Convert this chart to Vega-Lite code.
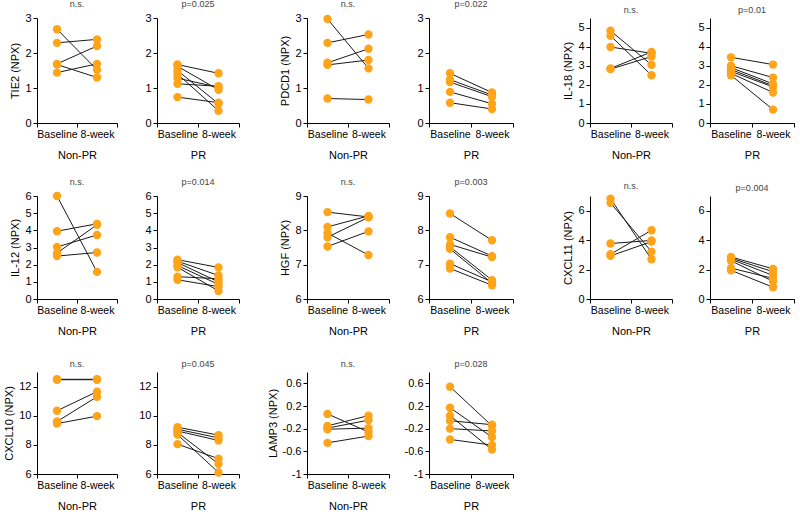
{
  "$schema": "https://vega.github.io/schema/vega-lite/v6.json",
  "padding": {"left": 3, "top": 0, "right": 0, "bottom": 0},
  "datasets": {
    "npx": [
      {"m":"TIE2","g":"Non-PR","s":1,"t":"Baseline","v":2.68},{"m":"TIE2","g":"Non-PR","s":1,"t":"8-week","v":1.52},
      {"m":"TIE2","g":"Non-PR","s":2,"t":"Baseline","v":2.29},{"m":"TIE2","g":"Non-PR","s":2,"t":"8-week","v":2.39},
      {"m":"TIE2","g":"Non-PR","s":3,"t":"Baseline","v":1.69},{"m":"TIE2","g":"Non-PR","s":3,"t":"8-week","v":2.20},
      {"m":"TIE2","g":"Non-PR","s":4,"t":"Baseline","v":1.67},{"m":"TIE2","g":"Non-PR","s":4,"t":"8-week","v":1.30},
      {"m":"TIE2","g":"Non-PR","s":5,"t":"Baseline","v":1.44},{"m":"TIE2","g":"Non-PR","s":5,"t":"8-week","v":1.69},
      {"m":"TIE2","g":"PR","s":1,"t":"Baseline","v":1.67},{"m":"TIE2","g":"PR","s":1,"t":"8-week","v":1.42},
      {"m":"TIE2","g":"PR","s":2,"t":"Baseline","v":1.62},{"m":"TIE2","g":"PR","s":2,"t":"8-week","v":0.95},
      {"m":"TIE2","g":"PR","s":3,"t":"Baseline","v":1.50},{"m":"TIE2","g":"PR","s":3,"t":"8-week","v":0.55},
      {"m":"TIE2","g":"PR","s":4,"t":"Baseline","v":1.40},{"m":"TIE2","g":"PR","s":4,"t":"8-week","v":0.35},
      {"m":"TIE2","g":"PR","s":5,"t":"Baseline","v":1.28},{"m":"TIE2","g":"PR","s":5,"t":"8-week","v":1.02},
      {"m":"TIE2","g":"PR","s":6,"t":"Baseline","v":1.12},{"m":"TIE2","g":"PR","s":6,"t":"8-week","v":1.05},
      {"m":"TIE2","g":"PR","s":7,"t":"Baseline","v":0.74},{"m":"TIE2","g":"PR","s":7,"t":"8-week","v":0.58},
      {"m":"PDCD1","g":"Non-PR","s":1,"t":"Baseline","v":2.97},{"m":"PDCD1","g":"Non-PR","s":1,"t":"8-week","v":1.56},
      {"m":"PDCD1","g":"Non-PR","s":2,"t":"Baseline","v":2.29},{"m":"PDCD1","g":"Non-PR","s":2,"t":"8-week","v":2.53},
      {"m":"PDCD1","g":"Non-PR","s":3,"t":"Baseline","v":1.72},{"m":"PDCD1","g":"Non-PR","s":3,"t":"8-week","v":2.12},
      {"m":"PDCD1","g":"Non-PR","s":4,"t":"Baseline","v":1.66},{"m":"PDCD1","g":"Non-PR","s":4,"t":"8-week","v":1.80},
      {"m":"PDCD1","g":"Non-PR","s":5,"t":"Baseline","v":0.70},{"m":"PDCD1","g":"Non-PR","s":5,"t":"8-week","v":0.67},
      {"m":"PDCD1","g":"PR","s":1,"t":"Baseline","v":1.42},{"m":"PDCD1","g":"PR","s":1,"t":"8-week","v":0.87},
      {"m":"PDCD1","g":"PR","s":2,"t":"Baseline","v":1.24},{"m":"PDCD1","g":"PR","s":2,"t":"8-week","v":0.80},
      {"m":"PDCD1","g":"PR","s":3,"t":"Baseline","v":1.17},{"m":"PDCD1","g":"PR","s":3,"t":"8-week","v":0.75},
      {"m":"PDCD1","g":"PR","s":4,"t":"Baseline","v":0.89},{"m":"PDCD1","g":"PR","s":4,"t":"8-week","v":0.55},
      {"m":"PDCD1","g":"PR","s":5,"t":"Baseline","v":0.58},{"m":"PDCD1","g":"PR","s":5,"t":"8-week","v":0.40},
      {"m":"IL-18","g":"Non-PR","s":1,"t":"Baseline","v":4.83},{"m":"IL-18","g":"Non-PR","s":1,"t":"8-week","v":3.05},
      {"m":"IL-18","g":"Non-PR","s":2,"t":"Baseline","v":4.57},{"m":"IL-18","g":"Non-PR","s":2,"t":"8-week","v":2.50},
      {"m":"IL-18","g":"Non-PR","s":3,"t":"Baseline","v":3.98},{"m":"IL-18","g":"Non-PR","s":3,"t":"8-week","v":3.65},
      {"m":"IL-18","g":"Non-PR","s":4,"t":"Baseline","v":2.86},{"m":"IL-18","g":"Non-PR","s":4,"t":"8-week","v":3.72},
      {"m":"IL-18","g":"Non-PR","s":5,"t":"Baseline","v":2.82},{"m":"IL-18","g":"Non-PR","s":5,"t":"8-week","v":3.48},
      {"m":"IL-18","g":"PR","s":1,"t":"Baseline","v":3.44},{"m":"IL-18","g":"PR","s":1,"t":"8-week","v":3.06},
      {"m":"IL-18","g":"PR","s":2,"t":"Baseline","v":3.00},{"m":"IL-18","g":"PR","s":2,"t":"8-week","v":2.38},
      {"m":"IL-18","g":"PR","s":3,"t":"Baseline","v":2.90},{"m":"IL-18","g":"PR","s":3,"t":"8-week","v":2.05},
      {"m":"IL-18","g":"PR","s":4,"t":"Baseline","v":2.80},{"m":"IL-18","g":"PR","s":4,"t":"8-week","v":1.95},
      {"m":"IL-18","g":"PR","s":5,"t":"Baseline","v":2.70},{"m":"IL-18","g":"PR","s":5,"t":"8-week","v":1.89},
      {"m":"IL-18","g":"PR","s":6,"t":"Baseline","v":2.60},{"m":"IL-18","g":"PR","s":6,"t":"8-week","v":1.60},
      {"m":"IL-18","g":"PR","s":7,"t":"Baseline","v":2.50},{"m":"IL-18","g":"PR","s":7,"t":"8-week","v":0.70},
      {"m":"IL-12","g":"Non-PR","s":1,"t":"Baseline","v":6.00},{"m":"IL-12","g":"Non-PR","s":1,"t":"8-week","v":1.58},
      {"m":"IL-12","g":"Non-PR","s":2,"t":"Baseline","v":3.95},{"m":"IL-12","g":"Non-PR","s":2,"t":"8-week","v":4.38},
      {"m":"IL-12","g":"Non-PR","s":3,"t":"Baseline","v":3.03},{"m":"IL-12","g":"Non-PR","s":3,"t":"8-week","v":3.73},
      {"m":"IL-12","g":"Non-PR","s":4,"t":"Baseline","v":2.68},{"m":"IL-12","g":"Non-PR","s":4,"t":"8-week","v":4.32},
      {"m":"IL-12","g":"Non-PR","s":5,"t":"Baseline","v":2.50},{"m":"IL-12","g":"Non-PR","s":5,"t":"8-week","v":2.71},
      {"m":"IL-12","g":"PR","s":1,"t":"Baseline","v":2.29},{"m":"IL-12","g":"PR","s":1,"t":"8-week","v":1.84},
      {"m":"IL-12","g":"PR","s":2,"t":"Baseline","v":2.20},{"m":"IL-12","g":"PR","s":2,"t":"8-week","v":1.37},
      {"m":"IL-12","g":"PR","s":3,"t":"Baseline","v":2.12},{"m":"IL-12","g":"PR","s":3,"t":"8-week","v":1.00},
      {"m":"IL-12","g":"PR","s":4,"t":"Baseline","v":1.95},{"m":"IL-12","g":"PR","s":4,"t":"8-week","v":0.85},
      {"m":"IL-12","g":"PR","s":5,"t":"Baseline","v":1.85},{"m":"IL-12","g":"PR","s":5,"t":"8-week","v":0.47},
      {"m":"IL-12","g":"PR","s":6,"t":"Baseline","v":1.30},{"m":"IL-12","g":"PR","s":6,"t":"8-week","v":1.18},
      {"m":"IL-12","g":"PR","s":7,"t":"Baseline","v":1.12},{"m":"IL-12","g":"PR","s":7,"t":"8-week","v":0.72},
      {"m":"HGF","g":"Non-PR","s":1,"t":"Baseline","v":8.53},{"m":"HGF","g":"Non-PR","s":1,"t":"8-week","v":8.39},
      {"m":"HGF","g":"Non-PR","s":2,"t":"Baseline","v":8.10},{"m":"HGF","g":"Non-PR","s":2,"t":"8-week","v":8.42},
      {"m":"HGF","g":"Non-PR","s":3,"t":"Baseline","v":7.92},{"m":"HGF","g":"Non-PR","s":3,"t":"8-week","v":7.28},
      {"m":"HGF","g":"Non-PR","s":4,"t":"Baseline","v":7.80},{"m":"HGF","g":"Non-PR","s":4,"t":"8-week","v":8.38},
      {"m":"HGF","g":"Non-PR","s":5,"t":"Baseline","v":7.53},{"m":"HGF","g":"Non-PR","s":5,"t":"8-week","v":7.97},
      {"m":"HGF","g":"PR","s":1,"t":"Baseline","v":8.49},{"m":"HGF","g":"PR","s":1,"t":"8-week","v":7.71},
      {"m":"HGF","g":"PR","s":2,"t":"Baseline","v":7.80},{"m":"HGF","g":"PR","s":2,"t":"8-week","v":7.25},
      {"m":"HGF","g":"PR","s":3,"t":"Baseline","v":7.59},{"m":"HGF","g":"PR","s":3,"t":"8-week","v":7.22},
      {"m":"HGF","g":"PR","s":4,"t":"Baseline","v":7.52},{"m":"HGF","g":"PR","s":4,"t":"8-week","v":6.55},
      {"m":"HGF","g":"PR","s":5,"t":"Baseline","v":7.46},{"m":"HGF","g":"PR","s":5,"t":"8-week","v":6.46},
      {"m":"HGF","g":"PR","s":6,"t":"Baseline","v":7.03},{"m":"HGF","g":"PR","s":6,"t":"8-week","v":6.50},
      {"m":"HGF","g":"PR","s":7,"t":"Baseline","v":6.89},{"m":"HGF","g":"PR","s":7,"t":"8-week","v":6.40},
      {"m":"CXCL11","g":"Non-PR","s":1,"t":"Baseline","v":6.82},{"m":"CXCL11","g":"Non-PR","s":1,"t":"8-week","v":2.70},
      {"m":"CXCL11","g":"Non-PR","s":2,"t":"Baseline","v":6.53},{"m":"CXCL11","g":"Non-PR","s":2,"t":"8-week","v":3.22},
      {"m":"CXCL11","g":"Non-PR","s":3,"t":"Baseline","v":3.77},{"m":"CXCL11","g":"Non-PR","s":3,"t":"8-week","v":3.98},
      {"m":"CXCL11","g":"Non-PR","s":4,"t":"Baseline","v":3.04},{"m":"CXCL11","g":"Non-PR","s":4,"t":"8-week","v":4.67},
      {"m":"CXCL11","g":"Non-PR","s":5,"t":"Baseline","v":2.93},{"m":"CXCL11","g":"Non-PR","s":5,"t":"8-week","v":3.90},
      {"m":"CXCL11","g":"PR","s":1,"t":"Baseline","v":2.86},{"m":"CXCL11","g":"PR","s":1,"t":"8-week","v":2.05},
      {"m":"CXCL11","g":"PR","s":2,"t":"Baseline","v":2.78},{"m":"CXCL11","g":"PR","s":2,"t":"8-week","v":1.85},
      {"m":"CXCL11","g":"PR","s":3,"t":"Baseline","v":2.70},{"m":"CXCL11","g":"PR","s":3,"t":"8-week","v":1.60},
      {"m":"CXCL11","g":"PR","s":4,"t":"Baseline","v":2.60},{"m":"CXCL11","g":"PR","s":4,"t":"8-week","v":1.20},
      {"m":"CXCL11","g":"PR","s":5,"t":"Baseline","v":2.10},{"m":"CXCL11","g":"PR","s":5,"t":"8-week","v":1.40},
      {"m":"CXCL11","g":"PR","s":6,"t":"Baseline","v":1.95},{"m":"CXCL11","g":"PR","s":6,"t":"8-week","v":0.80},
      {"m":"CXCL10","g":"Non-PR","s":1,"t":"Baseline","v":12.47},{"m":"CXCL10","g":"Non-PR","s":1,"t":"8-week","v":12.47},
      {"m":"CXCL10","g":"Non-PR","s":2,"t":"Baseline","v":12.50},{"m":"CXCL10","g":"Non-PR","s":2,"t":"8-week","v":12.50},
      {"m":"CXCL10","g":"Non-PR","s":3,"t":"Baseline","v":10.34},{"m":"CXCL10","g":"Non-PR","s":3,"t":"8-week","v":11.65},
      {"m":"CXCL10","g":"Non-PR","s":4,"t":"Baseline","v":9.60},{"m":"CXCL10","g":"Non-PR","s":4,"t":"8-week","v":11.30},
      {"m":"CXCL10","g":"Non-PR","s":5,"t":"Baseline","v":9.46},{"m":"CXCL10","g":"Non-PR","s":5,"t":"8-week","v":9.97},
      {"m":"CXCL10","g":"PR","s":1,"t":"Baseline","v":9.21},{"m":"CXCL10","g":"PR","s":1,"t":"8-week","v":8.67},
      {"m":"CXCL10","g":"PR","s":2,"t":"Baseline","v":9.07},{"m":"CXCL10","g":"PR","s":2,"t":"8-week","v":8.48},
      {"m":"CXCL10","g":"PR","s":3,"t":"Baseline","v":8.95},{"m":"CXCL10","g":"PR","s":3,"t":"8-week","v":8.30},
      {"m":"CXCL10","g":"PR","s":4,"t":"Baseline","v":8.85},{"m":"CXCL10","g":"PR","s":4,"t":"8-week","v":6.69},
      {"m":"CXCL10","g":"PR","s":5,"t":"Baseline","v":8.70},{"m":"CXCL10","g":"PR","s":5,"t":"8-week","v":6.10},
      {"m":"CXCL10","g":"PR","s":6,"t":"Baseline","v":8.05},{"m":"CXCL10","g":"PR","s":6,"t":"8-week","v":7.05},
      {"m":"LAMP3","g":"Non-PR","s":1,"t":"Baseline","v":0.06},{"m":"LAMP3","g":"Non-PR","s":1,"t":"8-week","v":-0.26},
      {"m":"LAMP3","g":"Non-PR","s":2,"t":"Baseline","v":-0.15},{"m":"LAMP3","g":"Non-PR","s":2,"t":"8-week","v":0.03},
      {"m":"LAMP3","g":"Non-PR","s":3,"t":"Baseline","v":-0.19},{"m":"LAMP3","g":"Non-PR","s":3,"t":"8-week","v":-0.05},
      {"m":"LAMP3","g":"Non-PR","s":4,"t":"Baseline","v":-0.21},{"m":"LAMP3","g":"Non-PR","s":4,"t":"8-week","v":-0.19},
      {"m":"LAMP3","g":"Non-PR","s":5,"t":"Baseline","v":-0.45},{"m":"LAMP3","g":"Non-PR","s":5,"t":"8-week","v":-0.33},
      {"m":"LAMP3","g":"PR","s":1,"t":"Baseline","v":0.54},{"m":"LAMP3","g":"PR","s":1,"t":"8-week","v":-0.15},
      {"m":"LAMP3","g":"PR","s":2,"t":"Baseline","v":0.17},{"m":"LAMP3","g":"PR","s":2,"t":"8-week","v":-0.35},
      {"m":"LAMP3","g":"PR","s":3,"t":"Baseline","v":0.03},{"m":"LAMP3","g":"PR","s":3,"t":"8-week","v":-0.57},
      {"m":"LAMP3","g":"PR","s":4,"t":"Baseline","v":-0.06},{"m":"LAMP3","g":"PR","s":4,"t":"8-week","v":-0.13},
      {"m":"LAMP3","g":"PR","s":5,"t":"Baseline","v":-0.20},{"m":"LAMP3","g":"PR","s":5,"t":"8-week","v":-0.24},
      {"m":"LAMP3","g":"PR","s":6,"t":"Baseline","v":-0.39},{"m":"LAMP3","g":"PR","s":6,"t":"8-week","v":-0.49}
    ]
  },
  "data": {"name": "npx"},
  "columns": 11,
  "bounds": "flush",
  "align": "each",
  "spacing": {"row": 73, "column": 0},
  "concat": [
    {"width": 80, "height": 105, "title": "n.s.",
     "transform": [{"filter": "datum.m == 'TIE2' && datum.g == 'Non-PR'"}],
     "encoding": {
       "x": {"field": "t", "type": "nominal", "sort": ["Baseline", "8-week"], "scale": {"type": "band", "paddingInner": 0, "paddingOuter": 0}, "axis": {"title": "Non-PR"}},
       "y": {"field": "v", "type": "quantitative", "scale": {"domain": [0, 3], "nice": false, "zero": false}, "axis": {"values": [0, 1, 2, 3], "title": "TIE2 (NPX)", "labelExpr": "'' + datum.value"}}
     },
     "layer": [
       {"mark": {"type": "line", "color": "#1a1a1a", "strokeWidth": 1}, "encoding": {"detail": {"field": "s", "type": "nominal"}}},
       {"mark": {"type": "circle", "color": "#FFA319", "opacity": 1, "size": 70}}
     ]},
    {"width": 39.5, "height": 1, "data": {"values": []}, "mark": "point"},
    {"width": 82, "height": 105, "title": "p=0.025",
     "transform": [{"filter": "datum.m == 'TIE2' && datum.g == 'PR'"}],
     "encoding": {
       "x": {"field": "t", "type": "nominal", "sort": ["Baseline", "8-week"], "scale": {"type": "band", "paddingInner": 0, "paddingOuter": 0}, "axis": {"title": "PR"}},
       "y": {"field": "v", "type": "quantitative", "scale": {"domain": [0, 3], "nice": false, "zero": false}, "axis": {"values": [0, 1, 2, 3], "title": null, "labelExpr": "'' + datum.value"}}
     },
     "layer": [
       {"mark": {"type": "line", "color": "#1a1a1a", "strokeWidth": 1}, "encoding": {"detail": {"field": "s", "type": "nominal"}}},
       {"mark": {"type": "circle", "color": "#FFA319", "opacity": 1, "size": 70}}
     ]},
    {"width": 68, "height": 1, "data": {"values": []}, "mark": "point"},
    {"width": 82, "height": 105, "title": "n.s.",
     "transform": [{"filter": "datum.m == 'PDCD1' && datum.g == 'Non-PR'"}],
     "encoding": {
       "x": {"field": "t", "type": "nominal", "sort": ["Baseline", "8-week"], "scale": {"type": "band", "paddingInner": 0, "paddingOuter": 0}, "axis": {"title": "Non-PR"}},
       "y": {"field": "v", "type": "quantitative", "scale": {"domain": [0, 3], "nice": false, "zero": false}, "axis": {"values": [0, 1, 2, 3], "title": "PDCD1 (NPX)", "labelExpr": "'' + datum.value"}}
     },
     "layer": [
       {"mark": {"type": "line", "color": "#1a1a1a", "strokeWidth": 1}, "encoding": {"detail": {"field": "s", "type": "nominal"}}},
       {"mark": {"type": "circle", "color": "#FFA319", "opacity": 1, "size": 70}}
     ]},
    {"width": 40, "height": 1, "data": {"values": []}, "mark": "point"},
    {"width": 84, "height": 105, "title": "p=0.022",
     "transform": [{"filter": "datum.m == 'PDCD1' && datum.g == 'PR'"}],
     "encoding": {
       "x": {"field": "t", "type": "nominal", "sort": ["Baseline", "8-week"], "scale": {"type": "band", "paddingInner": 0, "paddingOuter": 0}, "axis": {"title": "PR"}},
       "y": {"field": "v", "type": "quantitative", "scale": {"domain": [0, 3], "nice": false, "zero": false}, "axis": {"values": [0, 1, 2, 3], "title": null, "labelExpr": "'' + datum.value"}}
     },
     "layer": [
       {"mark": {"type": "line", "color": "#1a1a1a", "strokeWidth": 1}, "encoding": {"detail": {"field": "s", "type": "nominal"}}},
       {"mark": {"type": "circle", "color": "#FFA319", "opacity": 1, "size": 70}}
     ]},
    {"width": 77, "height": 1, "data": {"values": []}, "mark": "point"},
    {"width": 82, "height": 105, "title": "n.s.",
     "transform": [{"filter": "datum.m == 'IL-18' && datum.g == 'Non-PR'"}],
     "encoding": {
       "x": {"field": "t", "type": "nominal", "sort": ["Baseline", "8-week"], "scale": {"type": "band", "paddingInner": 0, "paddingOuter": 0}, "axis": {"title": "Non-PR"}},
       "y": {"field": "v", "type": "quantitative", "scale": {"domain": [0, 5.5], "nice": false, "zero": false}, "axis": {"values": [0, 1, 2, 3, 4, 5], "title": "IL-18 (NPX)", "labelExpr": "'' + datum.value"}}
     },
     "layer": [
       {"mark": {"type": "line", "color": "#1a1a1a", "strokeWidth": 1}, "encoding": {"detail": {"field": "s", "type": "nominal"}}},
       {"mark": {"type": "circle", "color": "#FFA319", "opacity": 1, "size": 70}}
     ]},
    {"width": 38, "height": 1, "data": {"values": []}, "mark": "point"},
    {"width": 84, "height": 105, "title": "p=0.01",
     "transform": [{"filter": "datum.m == 'IL-18' && datum.g == 'PR'"}],
     "encoding": {
       "x": {"field": "t", "type": "nominal", "sort": ["Baseline", "8-week"], "scale": {"type": "band", "paddingInner": 0, "paddingOuter": 0}, "axis": {"title": "PR"}},
       "y": {"field": "v", "type": "quantitative", "scale": {"domain": [0, 5.5], "nice": false, "zero": false}, "axis": {"values": [0, 1, 2, 3, 4, 5], "title": null, "labelExpr": "'' + datum.value"}}
     },
     "layer": [
       {"mark": {"type": "line", "color": "#1a1a1a", "strokeWidth": 1}, "encoding": {"detail": {"field": "s", "type": "nominal"}}},
       {"mark": {"type": "circle", "color": "#FFA319", "opacity": 1, "size": 70}}
     ]},

    {"width": 80, "height": 103, "title": "n.s.",
     "transform": [{"filter": "datum.m == 'IL-12' && datum.g == 'Non-PR'"}],
     "encoding": {
       "x": {"field": "t", "type": "nominal", "sort": ["Baseline", "8-week"], "scale": {"type": "band", "paddingInner": 0, "paddingOuter": 0}, "axis": {"title": "Non-PR"}},
       "y": {"field": "v", "type": "quantitative", "scale": {"domain": [0, 6], "nice": false, "zero": false}, "axis": {"values": [0, 1, 2, 3, 4, 5, 6], "title": "IL-12 (NPX)", "labelExpr": "'' + datum.value"}}
     },
     "layer": [
       {"mark": {"type": "line", "color": "#1a1a1a", "strokeWidth": 1}, "encoding": {"detail": {"field": "s", "type": "nominal"}}},
       {"mark": {"type": "circle", "color": "#FFA319", "opacity": 1, "size": 70}}
     ]},
    {"width": 39.5, "height": 1, "data": {"values": []}, "mark": "point"},
    {"width": 82, "height": 103, "title": "p=0.014",
     "transform": [{"filter": "datum.m == 'IL-12' && datum.g == 'PR'"}],
     "encoding": {
       "x": {"field": "t", "type": "nominal", "sort": ["Baseline", "8-week"], "scale": {"type": "band", "paddingInner": 0, "paddingOuter": 0}, "axis": {"title": "PR"}},
       "y": {"field": "v", "type": "quantitative", "scale": {"domain": [0, 6], "nice": false, "zero": false}, "axis": {"values": [0, 1, 2, 3, 4, 5, 6], "title": null, "labelExpr": "'' + datum.value"}}
     },
     "layer": [
       {"mark": {"type": "line", "color": "#1a1a1a", "strokeWidth": 1}, "encoding": {"detail": {"field": "s", "type": "nominal"}}},
       {"mark": {"type": "circle", "color": "#FFA319", "opacity": 1, "size": 70}}
     ]},
    {"width": 68, "height": 1, "data": {"values": []}, "mark": "point"},
    {"width": 82, "height": 103, "title": "n.s.",
     "transform": [{"filter": "datum.m == 'HGF' && datum.g == 'Non-PR'"}],
     "encoding": {
       "x": {"field": "t", "type": "nominal", "sort": ["Baseline", "8-week"], "scale": {"type": "band", "paddingInner": 0, "paddingOuter": 0}, "axis": {"title": "Non-PR"}},
       "y": {"field": "v", "type": "quantitative", "scale": {"domain": [6, 9], "nice": false, "zero": false}, "axis": {"values": [6, 7, 8, 9], "title": "HGF (NPX)", "labelExpr": "'' + datum.value"}}
     },
     "layer": [
       {"mark": {"type": "line", "color": "#1a1a1a", "strokeWidth": 1}, "encoding": {"detail": {"field": "s", "type": "nominal"}}},
       {"mark": {"type": "circle", "color": "#FFA319", "opacity": 1, "size": 70}}
     ]},
    {"width": 40, "height": 1, "data": {"values": []}, "mark": "point"},
    {"width": 84, "height": 103, "title": "p=0.003",
     "transform": [{"filter": "datum.m == 'HGF' && datum.g == 'PR'"}],
     "encoding": {
       "x": {"field": "t", "type": "nominal", "sort": ["Baseline", "8-week"], "scale": {"type": "band", "paddingInner": 0, "paddingOuter": 0}, "axis": {"title": "PR"}},
       "y": {"field": "v", "type": "quantitative", "scale": {"domain": [6, 9], "nice": false, "zero": false}, "axis": {"values": [6, 7, 8, 9], "title": null, "labelExpr": "'' + datum.value"}}
     },
     "layer": [
       {"mark": {"type": "line", "color": "#1a1a1a", "strokeWidth": 1}, "encoding": {"detail": {"field": "s", "type": "nominal"}}},
       {"mark": {"type": "circle", "color": "#FFA319", "opacity": 1, "size": 70}}
     ]},
    {"width": 77, "height": 1, "data": {"values": []}, "mark": "point"},
    {"width": 82, "height": 103, "title": "n.s.",
     "transform": [{"filter": "datum.m == 'CXCL11' && datum.g == 'Non-PR'"}],
     "encoding": {
       "x": {"field": "t", "type": "nominal", "sort": ["Baseline", "8-week"], "scale": {"type": "band", "paddingInner": 0, "paddingOuter": 0}, "axis": {"title": "Non-PR"}},
       "y": {"field": "v", "type": "quantitative", "scale": {"domain": [0, 7], "nice": false, "zero": false}, "axis": {"values": [0, 2, 4, 6], "title": "CXCL11 (NPX)", "labelExpr": "'' + datum.value"}}
     },
     "layer": [
       {"mark": {"type": "line", "color": "#1a1a1a", "strokeWidth": 1}, "encoding": {"detail": {"field": "s", "type": "nominal"}}},
       {"mark": {"type": "circle", "color": "#FFA319", "opacity": 1, "size": 70}}
     ]},
    {"width": 38, "height": 1, "data": {"values": []}, "mark": "point"},
    {"width": 84, "height": 103, "title": "p=0.004",
     "transform": [{"filter": "datum.m == 'CXCL11' && datum.g == 'PR'"}],
     "encoding": {
       "x": {"field": "t", "type": "nominal", "sort": ["Baseline", "8-week"], "scale": {"type": "band", "paddingInner": 0, "paddingOuter": 0}, "axis": {"title": "PR"}},
       "y": {"field": "v", "type": "quantitative", "scale": {"domain": [0, 7], "nice": false, "zero": false}, "axis": {"values": [0, 2, 4, 6], "title": null, "labelExpr": "'' + datum.value"}}
     },
     "layer": [
       {"mark": {"type": "line", "color": "#1a1a1a", "strokeWidth": 1}, "encoding": {"detail": {"field": "s", "type": "nominal"}}},
       {"mark": {"type": "circle", "color": "#FFA319", "opacity": 1, "size": 70}}
     ]},

    {"width": 80, "height": 102, "title": "n.s.",
     "transform": [{"filter": "datum.m == 'CXCL10' && datum.g == 'Non-PR'"}],
     "encoding": {
       "x": {"field": "t", "type": "nominal", "sort": ["Baseline", "8-week"], "scale": {"type": "band", "paddingInner": 0, "paddingOuter": 0}, "axis": {"title": "Non-PR"}},
       "y": {"field": "v", "type": "quantitative", "scale": {"domain": [6, 13], "nice": false, "zero": false}, "axis": {"values": [6, 8, 10, 12], "title": "CXCL10 (NPX)", "labelExpr": "'' + datum.value"}}
     },
     "layer": [
       {"mark": {"type": "line", "color": "#1a1a1a", "strokeWidth": 1}, "encoding": {"detail": {"field": "s", "type": "nominal"}}},
       {"mark": {"type": "circle", "color": "#FFA319", "opacity": 1, "size": 70}}
     ]},
    {"width": 39.5, "height": 1, "data": {"values": []}, "mark": "point"},
    {"width": 82, "height": 102, "title": "p=0.045",
     "transform": [{"filter": "datum.m == 'CXCL10' && datum.g == 'PR'"}],
     "encoding": {
       "x": {"field": "t", "type": "nominal", "sort": ["Baseline", "8-week"], "scale": {"type": "band", "paddingInner": 0, "paddingOuter": 0}, "axis": {"title": "PR"}},
       "y": {"field": "v", "type": "quantitative", "scale": {"domain": [6, 13], "nice": false, "zero": false}, "axis": {"values": [6, 8, 10, 12], "title": null, "labelExpr": "'' + datum.value"}}
     },
     "layer": [
       {"mark": {"type": "line", "color": "#1a1a1a", "strokeWidth": 1}, "encoding": {"detail": {"field": "s", "type": "nominal"}}},
       {"mark": {"type": "circle", "color": "#FFA319", "opacity": 1, "size": 70}}
     ]},
    {"width": 68, "height": 1, "data": {"values": []}, "mark": "point"},
    {"width": 82, "height": 102, "title": "n.s.",
     "transform": [{"filter": "datum.m == 'LAMP3' && datum.g == 'Non-PR'"}],
     "encoding": {
       "x": {"field": "t", "type": "nominal", "sort": ["Baseline", "8-week"], "scale": {"type": "band", "paddingInner": 0, "paddingOuter": 0}, "axis": {"title": "Non-PR"}},
       "y": {"field": "v", "type": "quantitative", "scale": {"domain": [-1, 0.8], "nice": false, "zero": false}, "axis": {"values": [-1, -0.6, -0.2, 0.2, 0.6], "title": "LAMP3 (NPX)", "labelExpr": "'' + datum.value"}}
     },
     "layer": [
       {"mark": {"type": "line", "color": "#1a1a1a", "strokeWidth": 1}, "encoding": {"detail": {"field": "s", "type": "nominal"}}},
       {"mark": {"type": "circle", "color": "#FFA319", "opacity": 1, "size": 70}}
     ]},
    {"width": 40, "height": 1, "data": {"values": []}, "mark": "point"},
    {"width": 84, "height": 102, "title": "p=0.028",
     "transform": [{"filter": "datum.m == 'LAMP3' && datum.g == 'PR'"}],
     "encoding": {
       "x": {"field": "t", "type": "nominal", "sort": ["Baseline", "8-week"], "scale": {"type": "band", "paddingInner": 0, "paddingOuter": 0}, "axis": {"title": "PR"}},
       "y": {"field": "v", "type": "quantitative", "scale": {"domain": [-1, 0.8], "nice": false, "zero": false}, "axis": {"values": [-1, -0.6, -0.2, 0.2, 0.6], "title": null, "labelExpr": "'' + datum.value"}}
     },
     "layer": [
       {"mark": {"type": "line", "color": "#1a1a1a", "strokeWidth": 1}, "encoding": {"detail": {"field": "s", "type": "nominal"}}},
       {"mark": {"type": "circle", "color": "#FFA319", "opacity": 1, "size": 70}}
     ]}
  ],
  "config": {
    "view": {"stroke": null},
    "font": "Liberation Sans",
    "axis": {
      "grid": false,
      "domainColor": "#000",
      "tickColor": "#000",
      "labelColor": "#000",
      "titleColor": "#000",
      "labelFont": "Liberation Sans",
      "titleFont": "Liberation Sans",
      "labelFontSize": 11,
      "titleFontSize": 11,
      "titleFontWeight": "normal",
      "tickSize": 4,
      "labelPadding": 2,
      "domainWidth": 1,
      "tickWidth": 1
    },
    "axisX": {"labelAngle": 0, "labelFontSize": 10.5, "tickBand": "extent", "titlePadding": 10},
    "axisY": {"titlePadding": 4},
    "title": {"fontSize": 9, "fontWeight": "normal", "color": "#444", "offset": 3, "font": "Liberation Sans"}
  }
}
